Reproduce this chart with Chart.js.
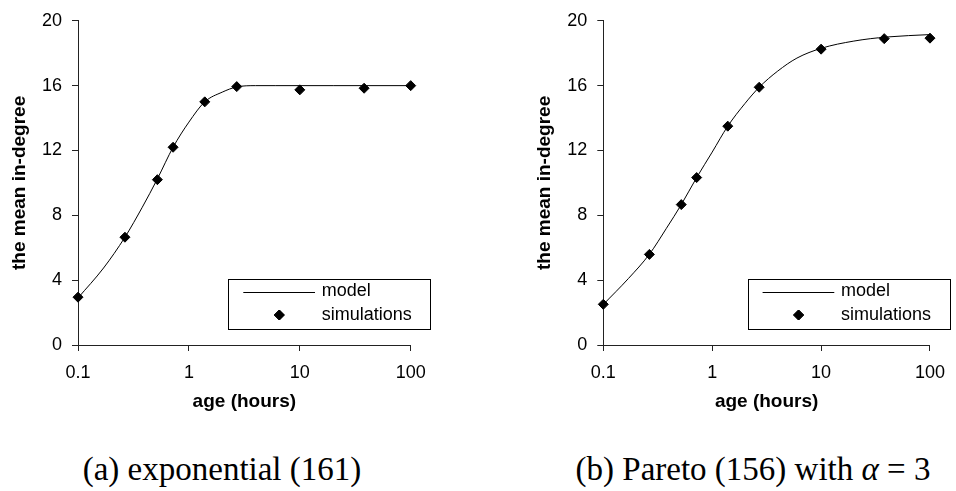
<!DOCTYPE html>
<html lang="en">
  <head>
    <meta charset="UTF-8">
    <script src="https://cdn.jsdelivr.net/npm/chart.js@4.4.1/dist/chart.umd.min.js"></script>
    <style>
      body {
        margin: 0;
        background: #FFFFFF;
        width: 956px;
        height: 491px;
        position: relative;
        overflow: hidden;
      }
      .panel {
        position: absolute;
        top: 0;
        width: 478px;
        height: 415px;
      }
      .caption {
        position: absolute;
        top: 450px;
        font-family: 'Liberation Serif', serif;
        font-size: 33px;
        line-height: 38px;
        color: #000;
        white-space: nowrap;
        transform: translateX(-50%);
      }
    </style>
  </head>
  <body>
    <div class="panel" style="left: 0;"><canvas id="chartA" width="478" height="415"></canvas></div>
    <div class="panel" style="left: 478px;"><canvas id="chartB" width="478" height="415"></canvas></div>
    <div class="caption" style="left: 222px;">(a) exponential (161)</div>
    <div class="caption" style="left: 753px;">(b) Pareto (156) with <i>α</i> = 3</div>

    <script>
      // values
      const xTicks = [0.1, 1, 10, 100];
      const yTicks = [0, 4, 8, 12, 16, 20];

      const simAge = [0.1, 0.265, 0.52, 0.72, 1.39, 2.7, 10, 38, 100];
      const simExp = [2.95, 6.65, 10.2, 12.2, 15.0, 15.94, 15.74, 15.84, 16.0];
      const simPareto = [2.51, 5.59, 8.66, 10.33, 13.5, 15.9, 18.25, 18.9, 18.93];

      const modelAge = [0.1, 0.17, 0.265, 0.38, 0.52, 0.72, 1, 1.39, 2, 2.7, 4, 6, 10, 20, 40, 100];
      const modelExp = [2.9, 4.75, 6.65, 8.5, 10.25, 12.2, 13.75, 15.0, 15.6, 15.92, 16.0, 16.0, 16.0, 16.0, 16.0, 16.0];
      const modelPareto = [2.5, 4.1, 5.6, 7.2, 8.66, 10.33, 11.9, 13.5, 14.9, 15.9, 16.9, 17.7, 18.3, 18.75, 19.0, 19.15];

      const toPoints = (xs, ys) => xs.map((x, i) => ({ x: x, y: ys[i] }));

      // legend drawn like the excel box inside the plot corner
      const boxLegend = {
        id: 'boxLegend',
        afterDraw(chart) {
          const ctx = chart.ctx;
          const area = chart.chartArea;
          const w = 201.7, h = 50.3;
          const left = area.right + 19.3 - w;
          const top = area.bottom - 66;
          const sets = chart.data.datasets;
          ctx.save();
          ctx.fillStyle = '#FFFFFF';
          ctx.fillRect(left, top, w, h);
          ctx.strokeStyle = '#000';
          ctx.lineWidth = 1;
          ctx.strokeRect(Math.round(left) + 0.5, Math.round(top) + 0.5, Math.round(w), Math.round(h));
          // model line
          ctx.beginPath();
          ctx.moveTo(left + 15, Math.round(top + 12.7) + 0.5);
          ctx.lineTo(left + 86.7, Math.round(top + 12.7) + 0.5);
          ctx.stroke();
          // simulations marker
          Chart.helpers.drawPoint(ctx, { pointStyle: 'rectRot', radius: 5, borderWidth: 1 }, left + 51, top + 36);
          ctx.fillStyle = '#000';
          ctx.fill();
          ctx.stroke();
          ctx.font = '18px "Liberation Sans", Arial, sans-serif';
          ctx.textBaseline = 'middle';
          ctx.textAlign = 'left';
          ctx.fillText(sets[0].label, left + 93.4, top + 12.5);
          ctx.fillText(sets[1].label, left + 93.4, top + 36.5);
          ctx.restore();
        }
      };

      function makeChart(id, modelVals, simVals, padLeft, padRight) {
        return new Chart(document.getElementById(id), {
          type: 'scatter',
          data: {
            datasets: [
              {
                label: 'model',
                data: toPoints(modelAge, modelVals),
                showLine: true,
                borderColor: '#000',
                borderWidth: 1,
                pointRadius: 0,
                cubicInterpolationMode: 'monotone',
                clip: false,
                order: 2
              },
              {
                label: 'simulations',
                data: toPoints(simAge, simVals),
                showLine: false,
                pointStyle: 'rectRot',
                pointRadius: 5,
                pointBorderWidth: 1,
                backgroundColor: '#000',
                borderColor: '#000',
                clip: false,
                order: 1
              }
            ]
          },
          options: {
            responsive: false,
            devicePixelRatio: 1,
            animation: false,
            layout: { padding: { left: padLeft, right: padRight, top: 13.3, bottom: 0 } },
            plugins: {
              legend: { display: false },
              tooltip: { enabled: false }
            },
            scales: {
              x: {
                type: 'logarithmic',
                min: 0.1,
                max: 100,
                afterBuildTicks: (s) => { s.ticks = xTicks.map(v => ({ value: v })); },
                afterFit: (s) => { s.height = 70; },
                grid: { drawOnChartArea: false, drawTicks: true, tickLength: 6, color: '#222' },
                border: { display: true, color: '#222', width: 1 },
                ticks: {
                  color: '#000',
                  padding: 11,
                  maxRotation: 0,
                  autoSkip: false,
                  font: { family: '"Liberation Sans", Arial, sans-serif', size: 18 },
                  callback: (v) => String(v)
                },
                title: {
                  display: true,
                  text: 'age (hours)',
                  color: '#000',
                  padding: { top: 0, bottom: 2 },
                  font: { family: '"Liberation Sans", Arial, sans-serif', size: 19, weight: 'bold' }
                }
              },
              y: {
                min: 0,
                max: 20,
                afterBuildTicks: (s) => { s.ticks = yTicks.map(v => ({ value: v })); },
                afterFit: (s) => { s.width = 78; },
                grid: { drawOnChartArea: false, drawTicks: true, tickLength: 6, color: '#222' },
                border: { display: true, color: '#222', width: 1 },
                ticks: {
                  color: '#000',
                  padding: 10,
                  font: { family: '"Liberation Sans", Arial, sans-serif', size: 18 }
                },
                title: {
                  display: true,
                  text: 'the mean in-degree',
                  color: '#000',
                  padding: { top: 8, bottom: 0 },
                  font: { family: '"Liberation Sans", Arial, sans-serif', size: 19, weight: 'bold' }
                }
              }
            }
          },
          plugins: [boxLegend]
        });
      }

      makeChart('chartA', modelExp, simExp, 0, 67.3);
      makeChart('chartB', modelPareto, simPareto, 47.3, 19.7);
    </script>
  </body>
</html>
